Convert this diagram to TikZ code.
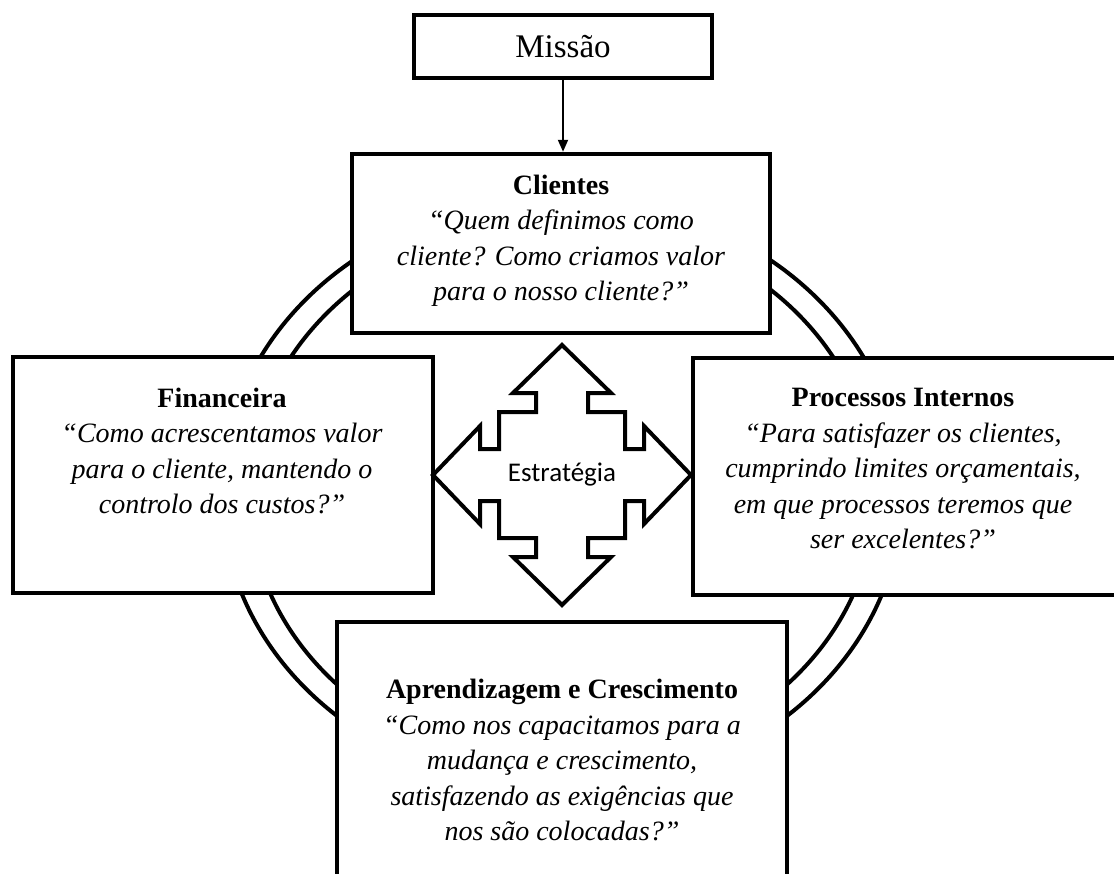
\documentclass[tikz,border=0pt]{standalone}
\usepackage{fontspec}
\setmainfont{Liberation Serif}
\newfontfamily\estrfont{Carlito}
\usetikzlibrary{arrows.meta}
\begin{document}
\begin{tikzpicture}[x=1pt,y=-1pt,
  box/.style={draw, line width=4.5pt, fill=white, inner sep=0pt},
  body/.style={align=center, font=\fontsize{28}{35.5}\selectfont, inner sep=0pt},
  ring/.style={line width=4pt},
  crossline/.style={line width=4pt, line join=miter, fill=white},
]
\useasboundingbox (0,0) rectangle (1114,873);
\clip (0,0) rectangle (1114,873);

% double ring behind the four perspective boxes
\draw[ring] (562,494) ellipse [x radius=340, y radius=296];
\draw[ring] (562,494) ellipse [x radius=313, y radius=274];

% boxes
\node[box, minimum width=298pt, minimum height=63pt]  (missao)   at (563,46.5) {};
\node[box, minimum width=418pt, minimum height=179pt] (clientes) at (561,243.5) {};
\node[box, minimum width=420pt, minimum height=236pt] (fin)      at (223,475) {};
\node[box, minimum width=442pt, minimum height=237pt] (proc)     at (914,476.5) {};
\node[box, minimum width=450pt, minimum height=278pt] (apr)      at (562,761) {};

% texts
\node[font=\fontsize{33}{38}\selectfont, inner sep=0pt] (missaot) at (missao) {Missão};
\node[body] (clientest) at (561,241) {\textbf{Clientes}\\\textit{“Quem definimos como}\\\textit{cliente? Como criamos valor}\\\textit{para o nosso cliente?”}};
\node[body] (fint) at (222,451) {\textbf{Financeira}\\\textit{“Como acrescentamos valor}\\\textit{para o cliente, mantendo o}\\\textit{controlo dos custos?”}};
\node[body] (proct) at (903,469) {\textbf{Processos Internos}\\\textit{“Para satisfazer os clientes,}\\\textit{cumprindo limites orçamentais,}\\\textit{em que processos teremos que}\\\textit{ser excelentes?”}};
\node[body] (aprt) at (562,760) {\textbf{Aprendizagem e Crescimento}\\\textit{“Como nos capacitamos para a}\\\textit{mudança e crescimento,}\\\textit{satisfazendo as exigências que}\\\textit{nos são colocadas?”}};

% mission feeds the customer perspective
\draw[line width=2pt, -{Triangle[length=12pt,width=10pt]}] (missao.south) -- (missao.south |- clientes.north);

% four-way strategy arrow
\draw[crossline, shift={(562,475)}]
  (0,-130) -- (49,-82) -- (26,-82) -- (26,-63) -- (63,-63) -- (63,-26) -- (82,-26) -- (82,-49)
  -- (129,0) -- (82,49) -- (82,26) -- (63,26) -- (63,63) -- (26,63) -- (26,82) -- (49,82)
  -- (0,130) -- (-49,82) -- (-26,82) -- (-26,63) -- (-63,63) -- (-63,26) -- (-82,26) -- (-82,49)
  -- (-129,0) -- (-82,-49) -- (-82,-26) -- (-63,-26) -- (-63,-63) -- (-26,-63) -- (-26,-82) -- (-49,-82)
  -- cycle;
\node[font=\estrfont\fontsize{27}{30}\selectfont, inner sep=0pt] (estr) at (562,475) {Estratégia};
\end{tikzpicture}
\end{document}
